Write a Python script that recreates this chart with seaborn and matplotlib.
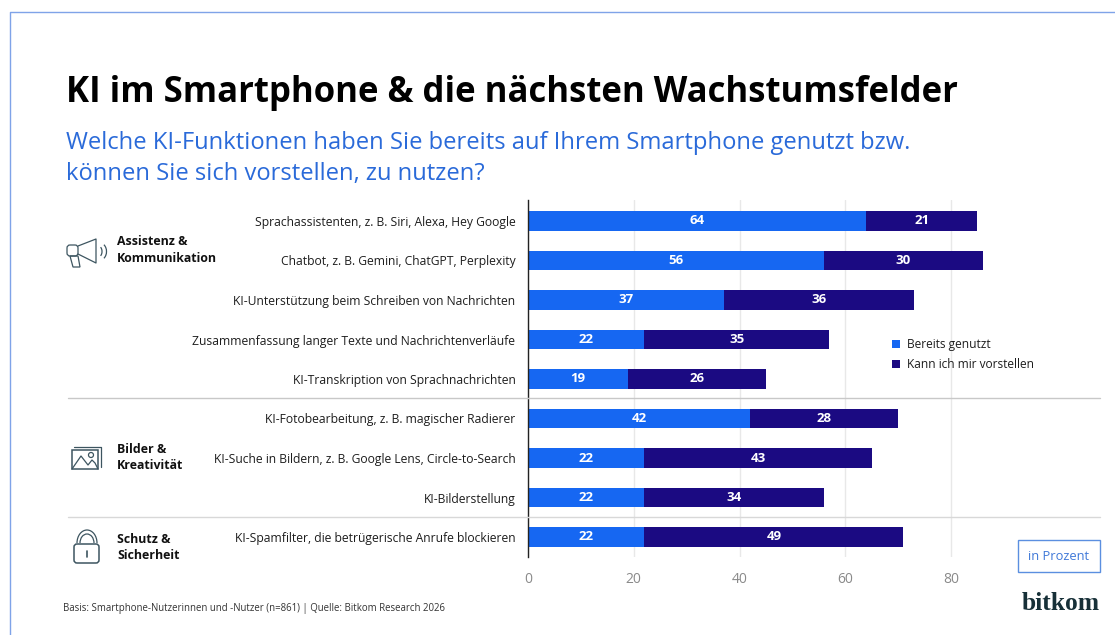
import matplotlib
matplotlib.use("Agg")
import matplotlib.pyplot as plt
import seaborn as sns
import pandas as pd
from matplotlib.patches import Rectangle, Polygon, FancyBboxPatch, Arc

# Data
functions = [
    "Sprachassistenten, z. B. Siri, Alexa, Hey Google",
    "Chatbot, z. B. Gemini, ChatGPT, Perplexity",
    "KI-Unterstützung beim Schreiben von Nachrichten",
    "Zusammenfassung langer Texte und Nachrichtenverläufe",
    "KI-Transkription von Sprachnachrichten",
    "KI-Fotobearbeitung, z. B. magischer Radierer",
    "KI-Suche in Bildern, z. B. Google Lens, Circle-to-Search",
    "KI-Bilderstellung",
    "KI-Spamfilter, die betrügerische Anrufe blockieren",
]
used = [64, 56, 37, 22, 19, 42, 22, 22, 22]
could_use = [21, 30, 36, 35, 26, 28, 43, 34, 49]
x_ticks = [0, 20, 40, 60, 80]
series_names = ["Bereits genutzt", "Kann ich mir vorstellen"]

BLUE = "#1667f2"
NAVY = "#1b0a82"
ICON = "#3d5560"
W, H = 1115, 635

sns.set_theme(style="white")
plt.rcParams["font.family"] = ["Open Sans", "DejaVu Sans"]

df = pd.DataFrame({"function": functions, "used": used, "could_use": could_use})

fig = plt.figure(figsize=(W / 100, H / 100), dpi=100, facecolor="white")

# Axes placed in pixels
ax_left, ax_right, ax_top, ax_bottom = 528, 1005, 200, 557
ax = fig.add_axes([ax_left / W, 1 - ax_bottom / H, (ax_right - ax_left) / W, (ax_bottom - ax_top) / H])
ax.set_axisbelow(True)

sns.barplot(data=df, y="function", x="used", color=BLUE, width=0.5, saturation=1, linewidth=0, ax=ax, label=series_names[0])
sns.barplot(data=df, y="function", x="could_use", left=df["used"], color=NAVY, width=0.5, saturation=1, linewidth=0, ax=ax, label=series_names[1])

px_per_unit = (951 - 528) / 80
ax.set_xlim(0, (ax_right - ax_left) / px_per_unit)
ax.set_ylim((ax_bottom - 221) / 39.5, (ax_top - 221) / 39.5)
ax.set_xticks(x_ticks)
ax.set_xlabel("")
ax.set_ylabel("")
ax.xaxis.grid(True, color="#e8e8e8", linewidth=1)
ax.tick_params(axis="x", length=0, labelsize=10, labelcolor="#8a8a8a", pad=11)
ax.tick_params(axis="y", length=0, labelsize=8.7, labelcolor="#1d1d1d", pad=9)
for s in ["top", "right", "bottom"]:
    ax.spines[s].set_visible(False)
ax.spines["left"].set_color("#222222")
ax.spines["left"].set_linewidth(1)

for container in ax.containers:
    ax.bar_label(container, label_type="center", color="white", fontsize=9.5, fontweight="bold")

ax.legend(loc="upper left", bbox_to_anchor=((892 - ax_left) / (ax_right - ax_left), 1 - (338 - ax_top) / (ax_bottom - ax_top)),
          frameon=False, fontsize=8.6, handlelength=0.7, handleheight=0.7, handletextpad=0.55, labelspacing=0.6,
          borderpad=0, borderaxespad=0, labelcolor="#1d1d1d")

# Overlay in picture pixels for frame, titles, icons and notes
ov = fig.add_axes([0, 0, 1, 1], facecolor="none")
ov.set_xlim(0, W)
ov.set_ylim(H, 0)
ov.axis("off")

ov.plot([9.5, 9.5, W], [H, 11.5, 11.5], color="#7fa3e8", lw=1)

ov.text(66, 93, "KI im Smartphone & die nächsten Wachstumsfelder", fontsize=25, fontweight="bold", color="black", va="center")
ov.text(66, 143, "Welche KI-Funktionen haben Sie bereits auf Ihrem Smartphone genutzt bzw.", fontsize=17.15, color="#2a6ad9", va="center")
ov.text(66, 174, "können Sie sich vorstellen, zu nutzen?", fontsize=17.15, color="#2a6ad9", va="center")

ov.plot([68, 1100], [398, 398], color="#c8c8c8", lw=1)
ov.plot([68, 1100], [517, 517], color="#d8d8d8", lw=1)

for y, label in [(250, "Assistenz &\nKommunikation"), (457.5, "Bilder &\nKreativität"), (547.5, "Schutz &\nSicherheit")]:
    ov.text(117, y, label, fontsize=8.95, fontweight="bold", color="#111111", va="center", linespacing=1.36)

# Megaphone
ov.plot([78, 96, 96, 78], [246, 239, 263, 254], color=ICON, lw=0.9)
ov.add_patch(FancyBboxPatch((67, 245), 11, 11, boxstyle="round,pad=0,rounding_size=3", fill=False, ec=ICON, lw=0.9))
ov.add_patch(Polygon([[70, 256], [78, 256], [80, 267], [73, 267]], closed=True, fill=False, ec=ICON, lw=0.9))
ov.add_patch(Arc((99, 251.5), 6, 10, theta1=-70, theta2=70, ec=ICON, lw=0.9))
ov.add_patch(Arc((100, 251.5), 13, 17, theta1=-60, theta2=60, ec=ICON, lw=0.9))

# Pictures
ov.add_patch(Rectangle((72, 450), 26, 19, fill=False, ec=ICON, lw=1.1))
ov.plot([74, 101, 101], [447, 447, 467], color=ICON, lw=0.9)
ov.plot([72, 81, 88, 92, 95, 98], [469, 456, 465, 460, 463, 469], color=ICON, lw=0.9)
ov.add_patch(Arc((91, 455), 5, 5, ec=ICON, lw=0.9))

# Padlock
ov.add_patch(FancyBboxPatch((74, 544), 25, 19, boxstyle="round,pad=0,rounding_size=3", fill=False, ec=ICON, lw=1.1))
ov.add_patch(Arc((87, 543), 20, 26, theta1=180, theta2=360, ec=ICON, lw=0.9))
ov.add_patch(Arc((87, 543), 14, 18, theta1=180, theta2=360, ec=ICON, lw=0.9))
ov.plot([87, 87], [551, 557], color=ICON, lw=1.2)

ov.text(63, 608.5, "Basis: Smartphone-Nutzerinnen und -Nutzer (n=861) | Quelle: Bitkom Research 2026", fontsize=6.95, color="#333333", va="center")

ov.add_patch(Rectangle((1017.5, 539.5), 82, 32, fill=False, ec="#5b8fe0", lw=1))
ov.text(1058.5, 556, "in Prozent", fontsize=9.3, color="#3f78d8", ha="center", va="center")

ov.text(1100, 603, "bitkom", fontsize=18.4, family="Liberation Serif", color="#173038", ha="right", va="center", fontweight="bold")

fig.savefig("out.png", dpi=100)
